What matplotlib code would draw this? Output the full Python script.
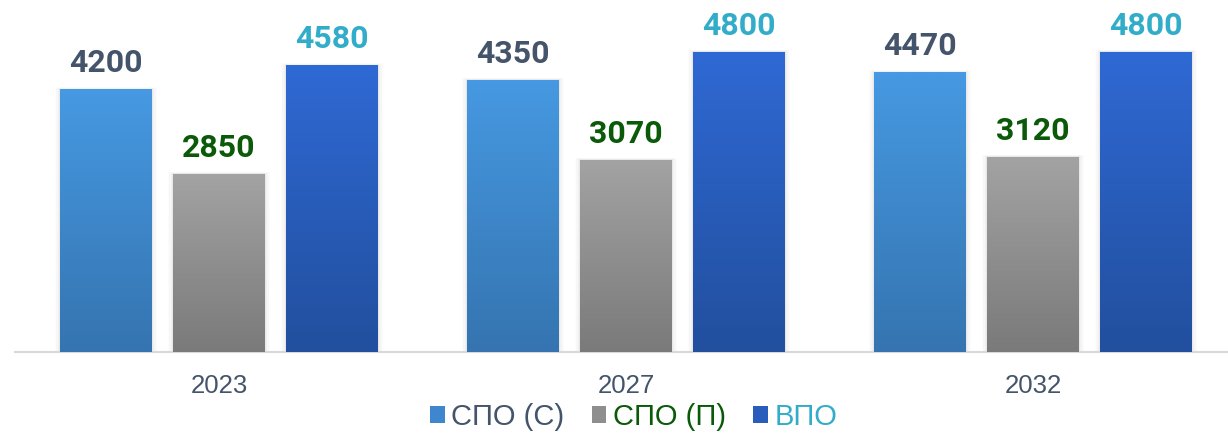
import numpy as np
import matplotlib
matplotlib.use("Agg")
import matplotlib.pyplot as plt
from matplotlib.patches import Rectangle
from matplotlib.colors import LinearSegmentedColormap

years = ["2023", "2027", "2032"]
series_names = ["СПО (С)", "СПО (П)", "ВПО"]
spo_s = [4200, 4350, 4470]
spo_p = [2850, 3070, 3120]
vpo = [4580, 4800, 4800]
series_values = [spo_s, spo_p, vpo]

bar_top_colors = ["#4699E2", "#A3A3A3", "#2F69D4"]
bar_bot_colors = ["#3574B0", "#7A7A7A", "#224F9E"]
legend_colors = ["#3E87CF", "#8E8E8E", "#2A5DBB"]
label_colors = ["#44546A", "#0A5A0A", "#32ADC9"]

W, H = 1228, 434
fig = plt.figure(figsize=(W / 100, H / 100), dpi=100)
ax = fig.add_axes([15 / W, (H - 352) / H, (W - 15) / W, 352 / H])
ax.set_xlim(-0.5012, 2.479)
ax.set_ylim(0, 5623)

x = np.arange(len(years))
offset = 0.2776
width = 0.226
grad = np.linspace(0, 1, 256).reshape(-1, 1)

for i, vals in enumerate(series_values):
    cmap = LinearSegmentedColormap.from_list(f"g{i}", [bar_bot_colors[i], bar_top_colors[i]])
    xs = x + (i - 1) * offset
    bars = ax.bar(xs, vals, width=width, color="none", edgecolor="none", zorder=3)
    for b, v in zip(bars, vals):
        x0, w_, h_ = b.get_x(), b.get_width(), b.get_height()
        # soft shadow
        for k, a in enumerate([0.035, 0.025, 0.018, 0.012]):
            d = 0.003 * (k + 1)
            ax.add_patch(Rectangle((x0 - d, 0), w_ + 2 * d, h_ + 8 * (k + 1),
                                   facecolor="#000000", alpha=a, edgecolor="none", zorder=2))
        im = ax.imshow(grad, cmap=cmap, origin="lower", aspect="auto",
                       extent=(x0, x0 + w_, 0, h_), zorder=3)
        im.set_clip_path(b)
        ax.text(x0 + w_ / 2, h_ + 270, f"{v}", ha="center", va="baseline",
                fontsize=23, fontweight="bold", color=label_colors[i],
                family="Roboto", zorder=4)

ax.set_xlim(-0.5012, 2.479)
ax.set_ylim(0, 5623)

for s in ["top", "right", "left"]:
    ax.spines[s].set_visible(False)
ax.spines["bottom"].set_color("#D9D9D9")
ax.spines["bottom"].set_linewidth(1.5)
ax.set_yticks([])
ax.set_xticks(x)
ax.set_xticklabels(years, fontsize=18.5, color="#44546A", family="Liberation Sans")
ax.tick_params(axis="x", length=0, pad=16)

handles = [Rectangle((0, 0), 1, 1, facecolor=c, edgecolor="none") for c in legend_colors]
leg = fig.legend(handles, series_names, loc="center", bbox_to_anchor=(0.516, 0.039),
                 ncol=3, frameon=False, prop={"family": "Liberation Sans", "size": 21},
                 handlelength=0.5, handleheight=0.5, handletextpad=0.22,
                 columnspacing=0.95, borderpad=0, borderaxespad=0)
for t, c in zip(leg.get_texts(), label_colors):
    t.set_color(c)

fig.savefig("out.png", dpi=100)
